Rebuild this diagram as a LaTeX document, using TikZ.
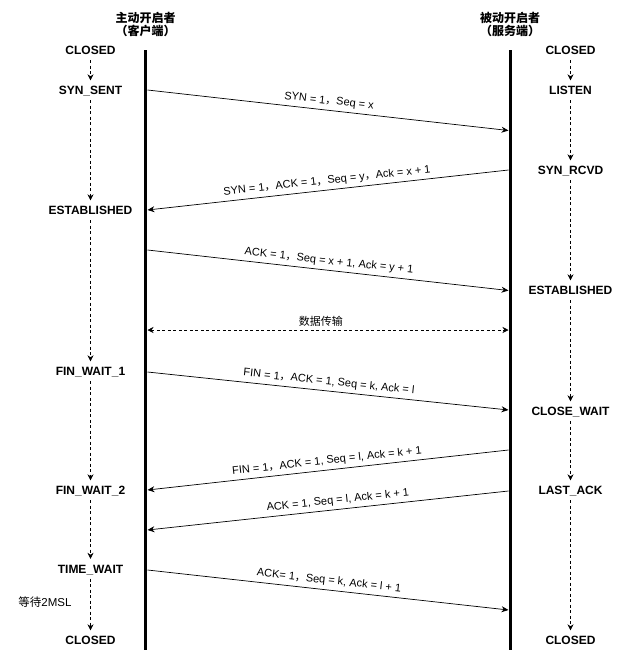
\documentclass[tikz,border=0pt]{standalone}
\usepackage{fontspec}
\setmainfont{Liberation Sans}
\newfontfamily\cjkfont{Noto Sans CJK SC}
\usetikzlibrary{arrows.meta}

\newcommand{\dou}{{\cjkfont ，}}

\begin{document}
\begin{tikzpicture}[x=1pt,y=-1pt,
		state/.style={font=\fontsize{12}{14}\selectfont\bfseries, text height=9pt, text depth=2pt, inner sep=3.5pt},
		role/.style={font=\fontsize{12}{13}\selectfont\cjkfont\bfseries, align=center, inner sep=0pt},
		lifeline/.style={line width=3pt},
		msg/.style={-{Stealth[length=7pt,width=6pt]}, line width=0.7pt},
		msgback/.style={{Stealth[length=7pt,width=6pt]}-, line width=0.7pt},
		msglabel/.style={font=\fontsize{11}{12}\selectfont, midway, sloped, above, inner sep=3.5pt},
		trans/.style={-{Stealth[length=6pt,width=6pt]}, dash pattern=on 3pt off 2.5pt, line width=0.6pt, shorten >=1.5pt}
	]
		\useasboundingbox (0,0) rectangle (631,662);
		
		\node[role] (client) at (145.5,24.5) {主动开启者\\（客户端）};
		\node[role] (server) at (510,24.5) {被动开启者\\（服务端）};
		
		\coordinate (ctop) at (145.5,50);
		\coordinate (cbot) at (145.5,650);
		\coordinate (stop) at (510,50);
		\coordinate (sbot) at (510,650);
		\draw[lifeline] (ctop) -- (cbot);
		\draw[lifeline] (stop) -- (sbot);
		
		% client states
		\node[state] (cclosed) at (90.5,51) {CLOSED};
		\node[state] (synsent) at (90.5,91) {SYN\_SENT};
		\node[state] (cestab) at (90.5,211) {ESTABLISHED};
		\node[state] (finwait1) at (90.5,372) {FIN\_WAIT\_1};
		\node[state] (finwait2) at (90.5,491) {FIN\_WAIT\_2};
		\node[state] (timewait) at (90.5,569.5) {TIME\_WAIT};
		\node[state] (cclosed2) at (90.5,641) {CLOSED};
		\node[font=\fontsize{11.5}{12}\selectfont, inner sep=0pt] (msl) at (45,602.5) {{\cjkfont 等待}2MSL};
		
		% server states
		\node[state] (sclosed) at (570.5,51) {CLOSED};
		\node[state] (listen) at (570.5,91) {LISTEN};
		\node[state] (synrcvd) at (570.5,171) {SYN\_RCVD};
		\node[state] (sestab) at (570.5,291) {ESTABLISHED};
		\node[state] (closewait) at (570.5,412) {CLOSE\_WAIT};
		\node[state] (lastack) at (570.5,491) {LAST\_ACK};
		\node[state] (sclosed2) at (570.5,641) {CLOSED};
		
		\draw[trans] (cclosed) -- (synsent);
		\draw[trans] (synsent) -- (cestab);
		\draw[trans] (cestab) -- (finwait1);
		\draw[trans] (finwait1) -- (finwait2);
		\draw[trans] (finwait2) -- (timewait);
		\draw[trans] (timewait) -- (cclosed2);
		
		\draw[trans] (sclosed) -- (listen);
		\draw[trans] (listen) -- (synrcvd);
		\draw[trans] (synrcvd) -- (sestab);
		\draw[trans] (sestab) -- (closewait);
		\draw[trans] (closewait) -- (lastack);
		\draw[trans] (lastack) -- (sclosed2);
		
		% message ends on the lifelines
		\coordinate (c1) at (147.5,90);
		\coordinate (s1) at (508.5,130.5);
		\coordinate (s2) at (508.5,170);
		\coordinate (c2) at (147.5,210);
		\coordinate (c3) at (147.5,250);
		\coordinate (s3) at (508.5,290.5);
		\coordinate (c4) at (147.5,330);
		\coordinate (s4) at (508.5,330);
		\coordinate (c5) at (147.5,372);
		\coordinate (s5) at (508.5,410);
		\coordinate (s6) at (508.5,450);
		\coordinate (c6) at (147.5,490);
		\coordinate (s7) at (508.5,491);
		\coordinate (c7) at (147.5,530);
		\coordinate (c8) at (147.5,570);
		\coordinate (s8) at (508.5,610);
		
		\draw[msg] (c1) -- (s1) node[msglabel] {SYN = 1\dou Seq = x};
		\draw[msgback] (c2) -- (s2) node[msglabel] {SYN = 1\dou ACK = 1\dou Seq = y\dou Ack = x + 1};
		\draw[msg] (c3) -- (s3) node[msglabel] {ACK = 1\dou Seq = x + 1, Ack = y + 1};
		\draw[{Stealth[length=6pt,width=6pt]}-{Stealth[length=6pt,width=6pt]}, dash pattern=on 3pt off 2.5pt, line width=0.6pt] (c4) -- (s4) node[msglabel, pos=0.48, font=\fontsize{11}{12}\selectfont\cjkfont] {数据传输};
		\draw[msg] (c5) -- (s5) node[msglabel] {FIN = 1\dou ACK = 1, Seq = k, Ack = l};
		\draw[msgback] (c6) -- (s6) node[msglabel] {FIN = 1\dou ACK = 1, Seq = l, Ack = k + 1};
		\draw[msgback] (c7) -- (s7) node[msglabel, pos=0.53] {ACK = 1, Seq = l, Ack = k + 1};
		\draw[msg] (c8) -- (s8) node[msglabel] {ACK= 1\dou Seq = k, Ack = l + 1};
	\end{tikzpicture}
\end{document}
